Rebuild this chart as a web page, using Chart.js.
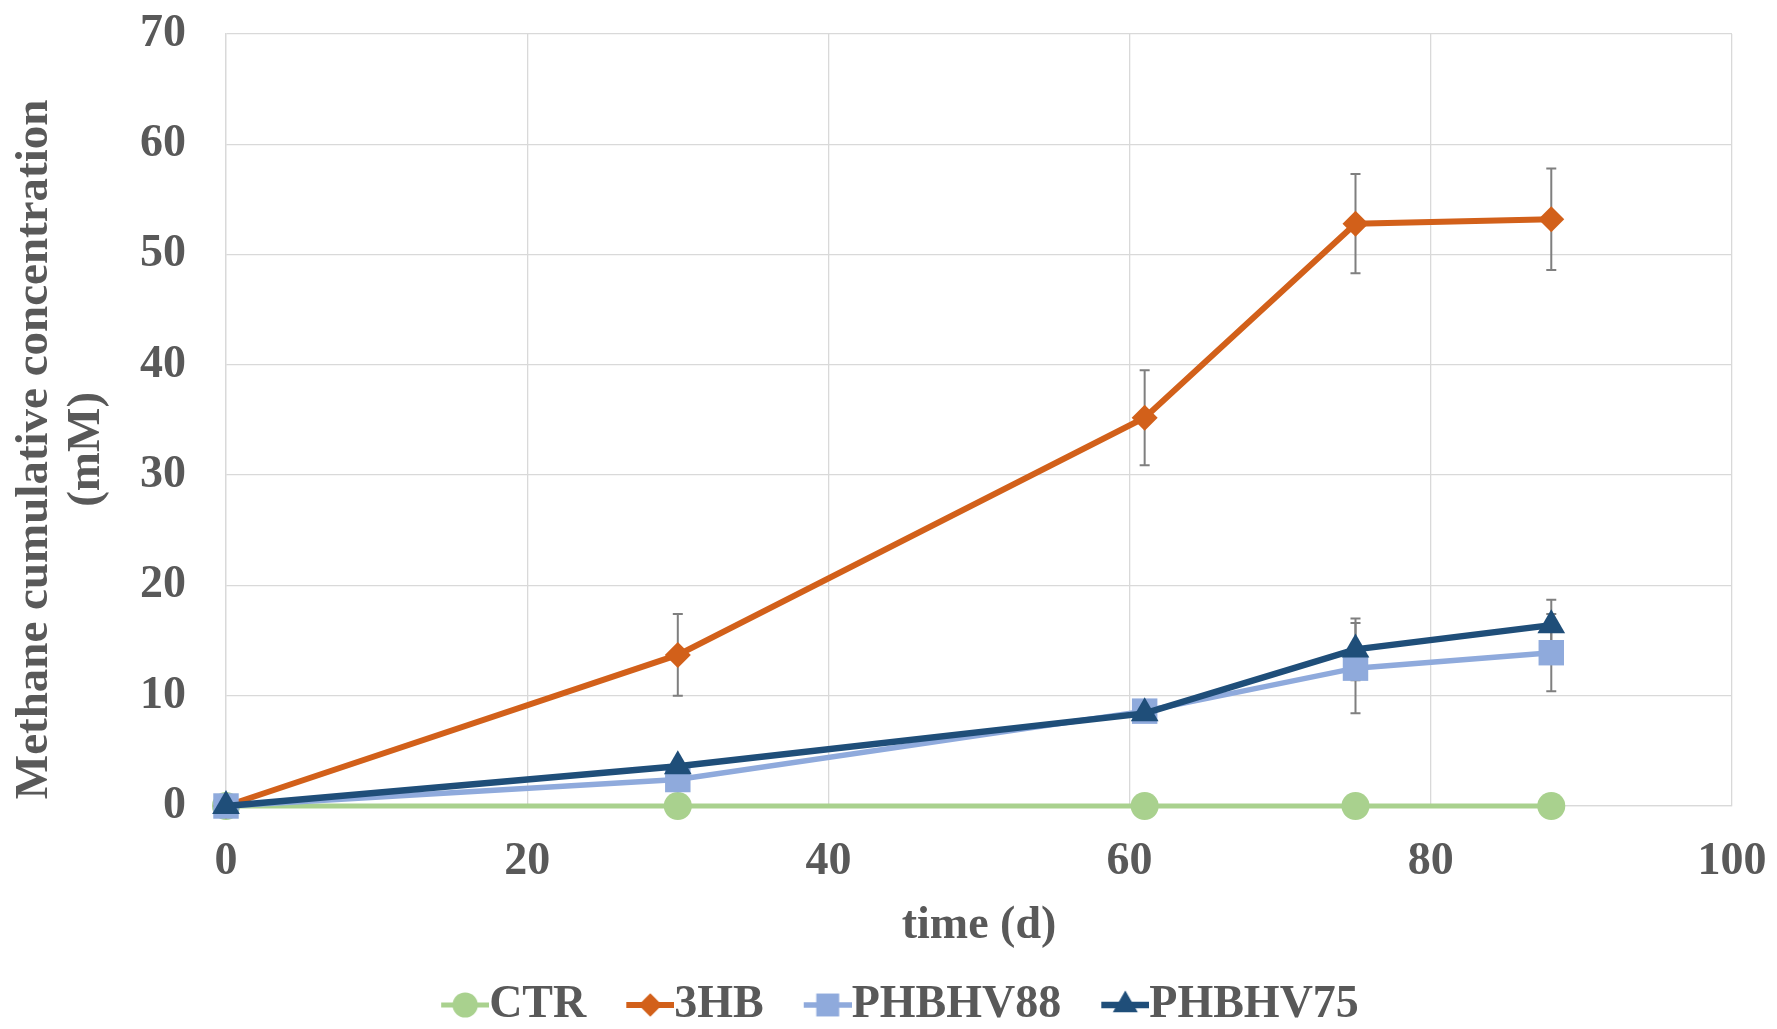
<!DOCTYPE html>
<html>
<head>
<meta charset="utf-8">
<title>Methane cumulative concentration</title>
<script src="https://cdn.jsdelivr.net/npm/chart.js@4.4.0/dist/chart.umd.min.js"></script>
<style>
    html, body { margin: 0; padding: 0; background: #fff; }
    #methaneChart { display: block; }
</style>
</head>
<body>
<canvas id="methaneChart" width="1777" height="1029"></canvas>
<script>
// values
const days = [0, 30, 61, 75, 88];
const ctrValues = [0, 0, 0, 0, 0];
const hbValues = [0, 13.7, 35.2, 52.8, 53.2];
const phbhv88Values = [0, 2.4, 8.6, 12.5, 13.9];
const phbhv75Values = [0, 3.6, 8.4, 14.2, 16.4];

const ctrErrors = [0, 0, 0, 0, 0];
const hbErrors = [0, 3.7, 4.3, 4.5, 4.6];
const phbhv88Errors = [0, 0.4, 0.6, 4.1, 3.5];
const phbhv75Errors = [0, 0.5, 0.7, 2.8, 2.3];

const xTicks = [0, 20, 40, 60, 80, 100];
const yTicks = [0, 10, 20, 30, 40, 50, 60, 70];

(function() {
    'use strict';

    const textColor = '#595959';
    const gridColor = '#d9d9d9';
    const serif = "'Liberation Serif', 'Times New Roman', serif";

    function toPoints(values) {
        return values.map((v, i) => ({ x: days[i], y: v }));
    }

    // legend icon: short line with the marker on it
    function legendIcon(style, color, lineWidth, radius) {
        const gap = 23, len = 48;
        const c = document.createElement('canvas');
        c.width = len + 2 * gap;
        c.height = 40;
        const g = c.getContext('2d');
        g.strokeStyle = color;
        g.fillStyle = color;
        g.lineWidth = lineWidth;
        g.beginPath();
        g.moveTo(2 * gap, 20);
        g.lineTo(2 * gap + len, 20);
        g.stroke();
        Chart.helpers.drawPoint(g, { pointStyle: style, radius: radius, borderWidth: 0, rotation: 0 }, 2 * gap + len / 2, 20);
        return c;
    }

    // error bars, placed through the chart scales
    const errorBars = {
        id: 'errorBars',
        beforeDatasetsDraw(chart) {
            const { ctx, scales: { x, y } } = chart;
            ctx.save();
            ctx.strokeStyle = '#7f7f7f';
            ctx.lineWidth = 2;
            chart.data.datasets.forEach(ds => {
                if (!ds.errors) return;
                ds.data.forEach((pt, i) => {
                    const e = ds.errors[i];
                    if (!e) return;
                    const px = x.getPixelForValue(pt.x);
                    const top = y.getPixelForValue(pt.y + e);
                    const bot = y.getPixelForValue(pt.y - e);
                    ctx.beginPath();
                    ctx.moveTo(px, top); ctx.lineTo(px, bot);
                    ctx.moveTo(px - 5, top); ctx.lineTo(px + 5, top);
                    ctx.moveTo(px - 5, bot); ctx.lineTo(px + 5, bot);
                    ctx.stroke();
                });
            });
            ctx.restore();
        }
    };

    const series = [
        { label: 'CTR', values: ctrValues, errors: ctrErrors, color: '#a9d18e', width: 5, style: 'circle', radius: 14, order: 3 },
        { label: '3HB', values: hbValues, errors: hbErrors, color: '#d2601a', width: 6, style: 'rectRot', radius: 13, order: 2 },
        { label: 'PHBHV88', values: phbhv88Values, errors: phbhv88Errors, color: '#8faadc', width: 5.5, style: 'rect', radius: 18, order: 1 },
        { label: 'PHBHV75', values: phbhv75Values, errors: phbhv75Errors, color: '#1f4e79', width: 6.5, style: 'triangle', radius: 16, order: 0 }
    ];

    const datasets = series.map(s => ({
        label: s.label,
        data: toPoints(s.values),
        errors: s.errors,
        borderColor: s.color,
        backgroundColor: s.color,
        borderWidth: s.width,
        pointStyle: s.style,
        pointRadius: s.radius,
        pointBorderWidth: 0,
        pointBackgroundColor: s.color,
        tension: 0,
        clip: false,
        order: s.order,
        legendIcon: legendIcon(s.style, s.color, s.width, s.radius * 0.9)
    }));

    // trailing spaces nudge the centred y title down, as in the original
    const yTitle = ['Methane cumulative concentration     ', '(mM)     '];

    new Chart(document.getElementById('methaneChart'), {
        type: 'line',
        data: { datasets: datasets },
        plugins: [errorBars],
        options: {
            responsive: false,
            animation: false,
            events: [],
            layout: {
                padding: { top: 0, right: 0, bottom: -9, left: 0 }
            },
            plugins: {
                tooltip: { enabled: false },
                legend: {
                    position: 'bottom',
                    labels: {
                        usePointStyle: true,
                        pointStyleWidth: 48,
                        boxHeight: 30,
                        padding: 17,
                        color: textColor,
                        font: { family: serif, size: 46, weight: 'bold' },
                        generateLabels: function(chart) {
                            return chart.data.datasets.map((ds, i) => ({
                                text: ds.label,
                                pointStyle: ds.legendIcon,
                                fillStyle: ds.borderColor,
                                strokeStyle: ds.borderColor,
                                lineWidth: 0,
                                fontColor: textColor,
                                hidden: false,
                                datasetIndex: i
                            }));
                        }
                    }
                }
            },
            scales: {
                x: {
                    type: 'linear',
                    min: 0,
                    max: 100,
                    afterBuildTicks: function(scale) {
                        scale.ticks = xTicks.map(v => ({ value: v }));
                    },
                    afterFit: function(scale) {
                        scale.height = 159;
                        scale.paddingRight = 45;
                    },
                    grid: { color: gridColor, lineWidth: 1.3, drawTicks: false },
                    border: { color: gridColor, width: 1.3 },
                    ticks: {
                        color: textColor,
                        padding: 29,
                        maxRotation: 0,
                        font: { family: serif, size: 46, weight: 'bold' }
                    },
                    title: {
                        display: true,
                        text: 'time (d)',
                        color: textColor,
                        padding: { top: 0, bottom: 14 },
                        font: { family: serif, size: 46, weight: 'bold', lineHeight: 1.1 }
                    }
                },
                y: {
                    type: 'linear',
                    min: 0,
                    max: 70,
                    afterBuildTicks: function(scale) {
                        scale.ticks = yTicks.map(v => ({ value: v }));
                    },
                    afterFit: function(scale) {
                        scale.width = 226;
                        scale.paddingTop = 34;
                    },
                    grid: { color: gridColor, lineWidth: 1.3, drawTicks: false },
                    border: { color: gridColor, width: 1.3 },
                    ticks: {
                        color: textColor,
                        padding: 40,
                        font: { family: serif, size: 46, weight: 'bold' }
                    },
                    title: {
                        display: true,
                        text: yTitle,
                        color: textColor,
                        padding: { top: 9, bottom: 0 },
                        font: { family: serif, size: 47, weight: 'bold', lineHeight: 1.1 }
                    }
                }
            }
        }
    });
})();
</script>
</body>
</html>
